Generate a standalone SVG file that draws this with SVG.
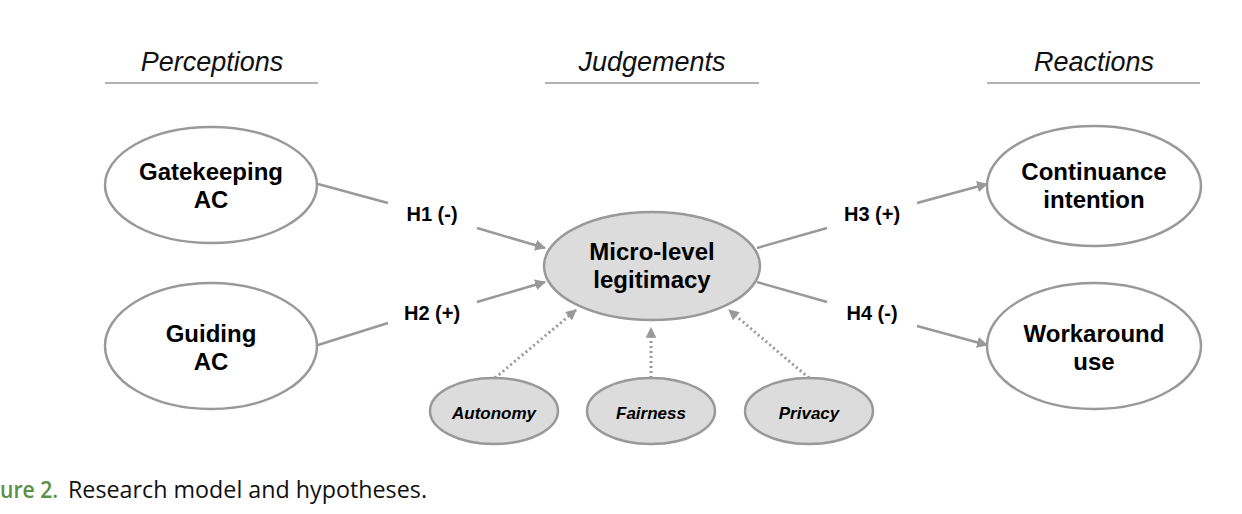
<svg xmlns="http://www.w3.org/2000/svg" width="1242" height="514" viewBox="0 0 1242 514">
<style>
.hdr{font-family:"Liberation Sans",Arial,sans-serif;font-style:italic;font-size:27px;fill:#111;text-anchor:middle}
.rule{stroke:#999;stroke-width:1.6}
.node{fill:#fff;stroke:#999;stroke-width:2.5}
.gnode{fill:#dcdcdc;stroke:#999;stroke-width:2.5}
.lbl{font-family:"Liberation Sans",Arial,sans-serif;font-weight:bold;font-size:24px;fill:#000;text-anchor:middle}
.slbl{font-family:"Liberation Sans",Arial,sans-serif;font-weight:bold;font-style:italic;font-size:17px;fill:#000;text-anchor:middle}
.hyp{font-family:"Liberation Sans",Arial,sans-serif;font-weight:bold;font-size:20px;fill:#000;text-anchor:middle}
.edge{stroke:#999;stroke-width:2.5;fill:none}
.dot{stroke:#999;stroke-width:3;stroke-dasharray:2 3;fill:none}
.cap{font-family:"Open Sans","Noto Sans",sans-serif;font-size:23px}
</style>
<defs>
<marker id="arr" viewBox="0 0 10 10" refX="9" refY="5" markerWidth="4.4" markerHeight="4.4" markerUnits="strokeWidth" orient="auto">
<path d="M0,0 L10,5 L0,10 z" fill="#999"/>
</marker>
<marker id="arrd" viewBox="0 0 10 10" refX="9" refY="5" markerWidth="3.6" markerHeight="3.6" markerUnits="strokeWidth" orient="auto">
<path d="M0,0 L10,5 L0,10 z" fill="#999"/>
</marker>
</defs>

<g id="headers">
<text class="hdr" x="212" y="71">Perceptions</text>
<line class="rule" x1="105" y1="83" x2="318" y2="83"/>
<text class="hdr" x="652" y="71">Judgements</text>
<line class="rule" x1="545" y1="83" x2="759" y2="83"/>
<text class="hdr" x="1094" y="71">Reactions</text>
<line class="rule" x1="987" y1="83" x2="1200" y2="83"/>
</g>

<g id="connectors">
<line class="edge" x1="318" y1="184" x2="388" y2="203"/>
<line class="edge" x1="477" y1="228" x2="545" y2="248" marker-end="url(#arr)"/>
<line class="edge" x1="318" y1="345" x2="388" y2="323"/>
<line class="edge" x1="477" y1="302" x2="545" y2="282" marker-end="url(#arr)"/>
<line class="edge" x1="757" y1="248" x2="827" y2="228"/>
<line class="edge" x1="917" y1="203" x2="987" y2="184" marker-end="url(#arr)"/>
<line class="edge" x1="757" y1="282" x2="827" y2="302"/>
<line class="edge" x1="917" y1="326" x2="987" y2="345" marker-end="url(#arr)"/>
<line class="dot" x1="495" y1="378" x2="576" y2="310" marker-end="url(#arrd)"/>
<line class="dot" x1="651" y1="378" x2="651" y2="328" marker-end="url(#arrd)"/>
<line class="dot" x1="809" y1="378" x2="729" y2="310" marker-end="url(#arrd)"/>
<text class="hyp" x="432" y="221">H1 (-)</text>
<text class="hyp" x="432" y="320">H2 (+)</text>
<text class="hyp" x="872" y="221">H3 (+)</text>
<text class="hyp" x="872" y="320">H4 (-)</text>
</g>

<g id="gatekeeping">
<ellipse class="node" cx="211" cy="185" rx="106" ry="58"/>
<text class="lbl" x="211" y="180">Gatekeeping</text>
<text class="lbl" x="211" y="208">AC</text>
</g>
<g id="guiding">
<ellipse class="node" cx="211" cy="346" rx="106" ry="63"/>
<text class="lbl" x="211" y="342">Guiding</text>
<text class="lbl" x="211" y="370">AC</text>
</g>
<g id="legitimacy">
<ellipse class="gnode" cx="652" cy="266" rx="108" ry="54"/>
<text class="lbl" x="652" y="260">Micro-level</text>
<text class="lbl" x="652" y="288">legitimacy</text>
</g>
<g id="continuance">
<ellipse class="node" cx="1094" cy="186" rx="107" ry="60"/>
<text class="lbl" x="1094" y="180">Continuance</text>
<text class="lbl" x="1094" y="208">intention</text>
</g>
<g id="workaround">
<ellipse class="node" cx="1094" cy="346" rx="107" ry="63"/>
<text class="lbl" x="1094" y="342">Workaround</text>
<text class="lbl" x="1094" y="370">use</text>
</g>
<g id="autonomy">
<ellipse class="gnode" cx="494" cy="411" rx="64" ry="33"/>
<text class="slbl" x="494" y="419">Autonomy</text>
</g>
<g id="fairness">
<ellipse class="gnode" cx="651" cy="411" rx="64" ry="33"/>
<text class="slbl" x="651" y="419">Fairness</text>
</g>
<g id="privacy">
<ellipse class="gnode" cx="809" cy="411" rx="64" ry="33"/>
<text class="slbl" x="809" y="419">Privacy</text>
</g>

<g id="caption">
<text class="cap" x="0" y="498" fill="#5a8f45" font-weight="600" textLength="58" lengthAdjust="spacingAndGlyphs">ure 2.</text>
<text class="cap" x="68" y="498" fill="#111" textLength="359" lengthAdjust="spacingAndGlyphs">Research model and hypotheses.</text>
</g>
</svg>
